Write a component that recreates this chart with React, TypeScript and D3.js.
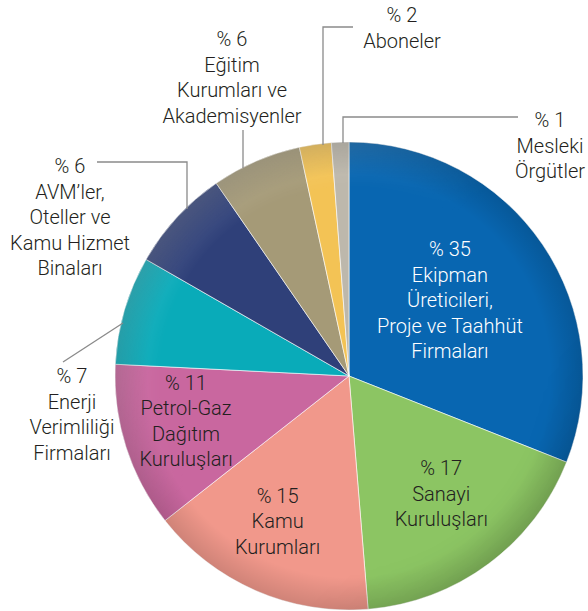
import React from 'react'
import * as d3 from 'd3'

// slices, clockwise from 12 o'clock
const names = [
  ['Ekipman', 'Üreticileri,', 'Proje ve Taahhüt', 'Firmaları'],
  ['Sanayi', 'Kuruluşları'],
  ['Kamu', 'Kurumları'],
  ['Petrol-Gaz', 'Dağıtım', 'Kuruluşları'],
  ['Enerji', 'Verimliliği', 'Firmaları'],
  ['AVM’ler,', 'Oteller ve', 'Kamu Hizmet', 'Binaları'],
  ['Eğitim', 'Kurumları ve', 'Akademisyenler'],
  ['Aboneler'],
  ['Mesleki', 'Örgütler']
]
const percents = [35, 17, 15, 11, 7, 6, 6, 2, 1]
// drawn share of each slice
const shares = [31.0, 17.7, 15.7, 11.4, 7.5, 7.1, 6.2, 2.2, 1.2]
const colors = ['#0866b1', '#8cc563', '#f1988b', '#c9679f', '#09abb9', '#2f4079', '#a59a77', '#f3c355', '#bdb8ac']

const W = 588
const H = 611
const cx = 349
const cy = 376
const R = 234
const LH = 25.5
const FONT = 'Roboto, "Liberation Sans", Arial, sans-serif'

// labels drawn inside the slice: radius of the anchor and text colour
const inside = {
  0: { r: 122, dx: 0, fill: '#ffffff' },
  1: { r: 155, dx: 0, fill: '#231f20' },
  2: { r: 166, dx: -5, fill: '#231f20' },
  3: { r: 171, dx: 0, fill: '#231f20' }
}
// labels placed outside with leader lines
const outside = {
  4: { x: 72, y: 383, anchor: 'middle', line: [[63, 362], [123, 323]] },
  5: { x: 70, y: 173, anchor: 'middle', line: [[97, 162], [187, 162], [187, 209]] },
  6: { x: 232, y: 46, anchor: 'middle', line: [[243, 130], [243, 168]] },
  7: { x: 402, y: 22, anchor: 'middle', line: [[353, 27], [323, 27], [323, 145]] },
  8: { x: 550, y: 127, anchor: 'middle', line: [[518, 117], [343, 117], [343, 143]] }
}

export default function App() {
  const pie = d3.pie<number>().sort(null).value((d) => d)
  const arcs = pie(shares)
  const arc = d3.arc<any>().innerRadius(0).outerRadius(R)
  const line = d3.line()

  return (
    <svg width={W} height={H} style={{ position: 'absolute', left: 0, top: 0 }}>
      <defs>
        <radialGradient id="rim" cx="0.5" cy="0.5" r="0.5">
          <stop offset="0.86" stopColor="#000" stopOpacity="0" />
          <stop offset="1" stopColor="#000" stopOpacity="0.14" />
        </radialGradient>
        <linearGradient id="hl" x1="0" y1="0" x2="1" y2="1">
          <stop offset="0" stopColor="#fff" stopOpacity="0.28" />
          <stop offset="0.45" stopColor="#fff" stopOpacity="0" />
          <stop offset="0.7" stopColor="#000" stopOpacity="0" />
          <stop offset="1" stopColor="#000" stopOpacity="0.12" />
        </linearGradient>
        <mask id="rimMask">
          <circle cx={cx} cy={cy} r={R} fill="url(#rimM)" />
        </mask>
        <radialGradient id="rimM" cx="0.5" cy="0.5" r="0.5">
          <stop offset="0.8" stopColor="#000" />
          <stop offset="1" stopColor="#fff" />
        </radialGradient>
      </defs>
      <g transform={`translate(${cx},${cy})`}>
        {arcs.map((a, i) => (
          <path key={i} d={arc(a) as string} fill={colors[i]} stroke="#ffffff" strokeOpacity={0.6} strokeWidth={1} />
        ))}
      </g>
      <circle cx={cx} cy={cy} r={R} fill="url(#hl)" mask="url(#rimMask)" />
      <circle cx={cx} cy={cy} r={R} fill="url(#rim)" />

      {arcs.map((a, i) => {
        const cfg = inside[i]
        if (!cfg) return null
        const c = d3.arc<any>().innerRadius(cfg.r).outerRadius(cfg.r).centroid(a)
        const lines = [`% ${percents[i]}`, ...names[i]]
        const x = cx + c[0] + cfg.dx
        const y0 = cy + c[1] - ((lines.length - 1) * LH) / 2
        return (
          <text key={'in' + i} x={x} y={y0} textAnchor="middle" fontFamily={FONT} fontWeight={300} fontSize={20} fill={cfg.fill}>
            {lines.map((t, k) => (
              <tspan key={k} x={x} y={y0 + k * LH}>
                {t}
              </tspan>
            ))}
          </text>
        )
      })}

      {Object.keys(outside).map((key) => {
        const i = +key
        const cfg = outside[i]
        const lines = [`% ${percents[i]}`, ...names[i]]
        return (
          <g key={'out' + i}>
            <path d={line(cfg.line) as string} fill="none" stroke="#8a8a8a" strokeWidth={1.3} />
            <text x={cfg.x} y={cfg.y} textAnchor={cfg.anchor} fontFamily={FONT} fontWeight={300} fontSize={20} fill="#231f20">
              {lines.map((t, k) => (
                <tspan key={k} x={cfg.x} y={cfg.y + k * LH}>
                  {t}
                </tspan>
              ))}
            </text>
          </g>
        )
      })}
    </svg>
  )
}
